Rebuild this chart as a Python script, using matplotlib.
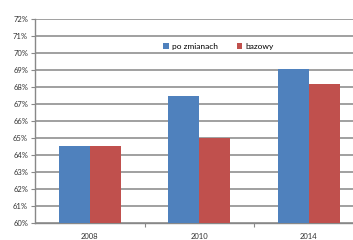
import matplotlib
matplotlib.use('Agg')
import matplotlib.pyplot as plt
import numpy as np

years = ['2008', '2010', '2014']
po_zmianach = [64.55, 67.5, 69.05]
bazowy = [64.55, 65.0, 68.2]

blue = '#4F81BD'
red = '#C0504D'
grid_col = '#a0a0a0'

plt.rcParams['font.family'] = ['Lato', 'DejaVu Sans']

fig = plt.figure(figsize=(3.53, 2.40), dpi=100)
# axes is wider than the figure: the right side of the chart is cut off
ax = fig.add_axes([35 / 353, 17 / 240, 328.5 / 353, 204 / 240])

x = np.arange(len(years))
w = 0.285
ax.bar(x - w / 2, po_zmianach, w, color=blue, label='po zmianach', zorder=3)
ax.bar(x + w / 2, bazowy, w, color=red, label='bazowy', zorder=3)

ax.set_xlim(-0.5, 2.5)
ax.set_ylim(60, 72)
ax.set_yticks(np.arange(60, 73, 1))
ax.set_yticklabels([f'{v}%' for v in range(60, 73)], fontsize=5.5, color='#333333')
ax.yaxis.grid(True, color=grid_col, linewidth=1.4, zorder=0)

ax.set_xticks([0.5, 1.5])
ax.set_xticklabels([])
ax.set_xticks(x, minor=True)
ax.set_xticklabels(years, minor=True, fontsize=5.5, color='#333333')
ax.tick_params(axis='x', which='minor', length=0, pad=7)
ax.tick_params(axis='x', which='major', length=3, direction='out', color='#888888')
ax.tick_params(axis='y', length=3, direction='out', color='#888888', pad=2)

for s in ['top', 'right']:
    ax.spines[s].set_visible(False)
for s in ['left', 'bottom']:
    ax.spines[s].set_color('#888888')
    ax.spines[s].set_linewidth(1.0)

ax.legend(loc='upper left', bbox_to_anchor=(0.38, 0.90), ncol=2, frameon=False,
          fontsize=6, handlelength=0.7, handleheight=0.7, handletextpad=0.4,
          columnspacing=2.2, borderaxespad=0)

fig.savefig('out.png', dpi=100)
